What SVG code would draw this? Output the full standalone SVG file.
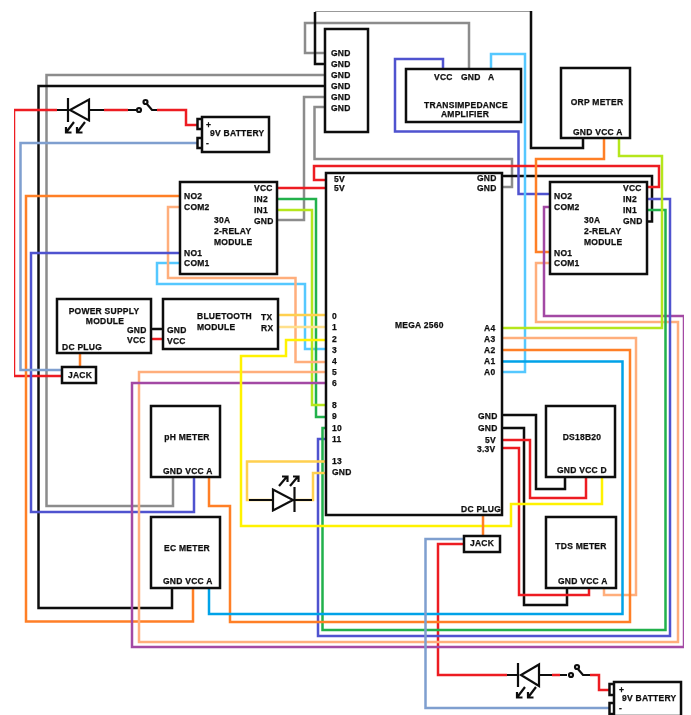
<svg xmlns="http://www.w3.org/2000/svg" width="691" height="715" viewBox="0 0 691 715">
<style>
text{font-family:"Liberation Sans",Arial,sans-serif;font-weight:700;font-size:8.5px;letter-spacing:.25px;fill:#111;stroke:#111;stroke-width:.25px}
.m{text-anchor:middle}
.w{fill:none;stroke-width:2.5;stroke-linejoin:miter}
.box{fill:#fff;stroke:#111;stroke-width:2.500}
.sym{fill:none;stroke:#111;stroke-width:2.200}
.k{stroke:#111}.g{stroke:#8c8c8c}.r{stroke:#ed1c24}.o{stroke:#ff7f27}.lo{stroke:#ffae7c}.b{stroke:#4f52cf}.c{stroke:#55c8ff}.a1{stroke:#00a2e8}
.gr{stroke:#22b14c}.l{stroke:#b5e61d}.p{stroke:#a349a4}.y{stroke:#fff200}.gd{stroke:#ffd050}.gl{stroke:#ffe08c}.bg{stroke:#7f9fcf}
</style>
<defs><filter id="soft" x="0" y="0" width="100%" height="100%"><feGaussianBlur stdDeviation="0.3"/></filter></defs>
<rect width="691" height="715" fill="#fff"/>
<g filter="url(#soft)">
<g id="connectors">
<path class="w" style="stroke:#999;stroke-width:1" d="M315 11.500H531"/>
<path class="w g" d="M325 53H305V23H469V69"/>
<path class="w g" d="M325 75H46.500V506H173V477"/>
<path class="w g" d="M325 97H304V220H277"/>
<path class="w g" d="M325 107H314.500V159H512V187H502"/>
<path class="w k" d="M315 12V64H325"/>
<path class="w k" d="M531 11V148H583V138"/>
<path class="w k" d="M325 86H38.500V608H172V588"/>
<path class="w k" d="M502 176H652V221.500H647"/>
<path class="w k" d="M502 415H536V489H565V477"/>
<path class="w k" d="M502 428H524V605H567V588"/>
<path class="w k" d="M151 329H163"/>
<path class="w b" d="M443 69V59H395V131.500H518.500V194H551"/>
<path class="w c" d="M491 69V54H525V372H502"/>
<path class="w c" d="M180 263H157V284H305V349H326"/>
<path class="w r" d="M326 180H314V166H659V187H647"/>
<path class="w r" d="M277 188H326"/>
<path class="w r" d="M151 339H163"/>
<path class="w r" d="M61 376H14V110H57"/>
<path class="w r" d="M104 110H128"/>
<path class="w r" d="M157 110H186V125H197"/>
<path class="w r" d="M502 440H530V498H586V477"/>
<path class="w r" d="M502 448H519V595H589V588"/>
<path class="w r" d="M464 544H438V675H507"/>
<path class="w r" d="M552 675H560"/>
<path class="w r" d="M590 675H599V690H609"/>
<path class="w gr" d="M277 199H316V417H326"/>
<path class="w l" d="M277 210H312V405H326"/>
<path class="w o" d="M180 196H26V621.500H193V588"/>
<path class="w lo" d="M180 207H168V278H295.500V362H326"/>
<path class="w b" d="M180 253H31V512H194V477"/>
<path class="w o" d="M551 252H536V159H604V138"/>
<path class="w lo" d="M551 263H536V322H678V642H139V372H326"/>
<path class="w p" d="M551 207H544V316H684V647H132V383H326"/>
<path class="w b" d="M647 199H670V636H318V439H326"/>
<path class="w gr" d="M647 210H665.500V630H322.500V428H326"/>
<path class="w l" d="M619 138V156H662V328H502"/>
<path class="w lo" d="M502 338H636V595H604V588"/>
<path class="w o" d="M502 350H630V622H230V506H209V477"/>
<path class="w a1" d="M502 361.500H622.500V614H209V588"/>
<path class="w y" d="M602 477V504H511V526H241V356H286V340H326"/>
<path class="w gd" d="M326 461.500H247V500H272"/>
<path class="w gd" d="M326 473H313V500H296"/>
<path class="w gd" d="M277 315H326"/>
<path class="w gl" d="M277 327H326"/>
<path class="w o" d="M483 515V536"/>
<path class="w o" d="M80 353V367"/>
<path class="w bg" d="M197 143H20.500V370H62"/>
<path class="w bg" d="M464 539H425.500V708H609"/>
</g>
<g id="gnd-bus"><rect class="box" x="325" y="29" width="43" height="103"/>
<text x="331" y="56">GND</text><text x="331" y="67">GND</text><text x="331" y="78">GND</text><text x="331" y="89">GND</text><text x="331" y="100">GND</text><text x="331" y="111">GND</text></g>
<g id="transimpedance-amplifier"><rect class="box" x="406" y="69" width="115" height="53"/>
<text x="434" y="80">VCC</text><text x="461" y="80">GND</text><text x="488" y="80">A</text>
<text class="m" x="466" y="107.500">TRANSIMPEDANCE</text><text class="m" x="465" y="116.500">AMPLIFIER</text></g>
<g id="orp-meter"><rect class="box" x="561" y="68" width="69" height="70"/>
<text class="m" x="597" y="105">ORP METER</text><text x="573" y="135">GND VCC A</text></g>
<g id="battery-1"><rect class="box" x="197.500" y="119" width="5" height="10"/><rect class="box" x="197.500" y="138" width="5" height="10"/><rect class="box" x="202" y="117" width="67" height="35"/>
<text x="206" y="127.500">+</text><text x="210" y="136">9V BATTERY</text><text x="206" y="146">-</text></g>
<g id="diode-1"><path class="sym" d="M57 110H68M68 98V122M89 99.500V120.500L70 110ZM89 110H104M128 110H136M146.500 103.500L152 110H157"/>
<circle class="sym" cx="139" cy="110" r="2"/><circle class="sym" cx="145.500" cy="102" r="2"/>
<path class="sym" d="M74 122L66 132.500M66 127V132.500H71.500M85 122L77 132.500M77 127V132.500H82.500"/></g>
<g id="relay-left"><rect class="box" x="180" y="182" width="97" height="92"/>
<text x="184" y="199">NO2</text><text x="184" y="210">COM2</text><text x="214" y="223">30A</text><text x="214" y="234">2-RELAY</text><text x="214" y="245">MODULE</text><text x="184" y="255.500">NO1</text><text x="184" y="266">COM1</text>
<text x="254" y="191">VCC</text><text x="254" y="202">IN2</text><text x="254" y="213">IN1</text><text x="254" y="224">GND</text></g>
<g id="relay-right"><rect class="box" x="550" y="182" width="97" height="92"/>
<text x="554" y="199">NO2</text><text x="554" y="210">COM2</text><text x="584" y="223">30A</text><text x="584" y="234">2-RELAY</text><text x="584" y="245">MODULE</text><text x="554" y="255.500">NO1</text><text x="554" y="266">COM1</text>
<text x="623" y="191">VCC</text><text x="623" y="202">IN2</text><text x="623" y="213">IN1</text><text x="623" y="224">GND</text></g>
<g id="mega-2560"><rect class="box" x="326" y="173" width="176" height="342"/>
<text x="334" y="182">5V</text><text x="334" y="191">5V</text><text x="477" y="181">GND</text><text x="477" y="191">GND</text>
<text x="332" y="319">0</text><text x="332" y="330">1</text><text x="332" y="342">2</text><text x="332" y="353">3</text><text x="332" y="364">4</text><text x="332" y="375">5</text><text x="332" y="386">6</text><text x="332" y="408">8</text><text x="332" y="419">9</text><text x="332" y="431">10</text><text x="332" y="442">11</text><text x="332" y="464">13</text><text x="332" y="475">GND</text>
<text x="395" y="328">MEGA 2560</text>
<text x="484" y="331">A4</text><text x="484" y="342">A3</text><text x="484" y="353">A2</text><text x="484" y="364">A1</text><text x="484" y="375">A0</text>
<text x="478" y="419">GND</text><text x="478" y="431">GND</text><text x="485" y="443">5V</text><text x="477" y="452">3.3V</text><text x="461" y="512">DC PLUG</text></g>
<g id="power-supply"><rect class="box" x="57" y="299" width="94" height="54"/>
<text class="m" x="104" y="314">POWER SUPPLY</text><text class="m" x="105" y="324">MODULE</text><text x="127" y="333">GND</text><text x="127" y="343">VCC</text><text x="62" y="350">DC PLUG</text></g>
<g id="bluetooth"><rect class="box" x="163" y="299" width="115" height="50"/>
<text x="197" y="319">BLUETOOTH</text><text x="197" y="330">MODULE</text><text x="261" y="320">TX</text><text x="261" y="331">RX</text><text x="167" y="333">GND</text><text x="167" y="344">VCC</text></g>
<g id="jack-left"><rect class="box" x="62" y="367" width="34" height="16"/><text x="68" y="378">JACK</text></g>
<g id="ph-meter"><rect class="box" x="151" y="406" width="69" height="71"/><text class="m" x="187" y="440">pH METER</text><text x="163" y="474">GND VCC A</text></g>
<g id="ec-meter"><rect class="box" x="151" y="517" width="69" height="71"/><text class="m" x="187" y="551">EC METER</text><text x="163" y="584">GND VCC A</text></g>
<g id="led"><path class="sym" d="M249 500H273M273 489.500V510.500L293 500ZM294.500 487V512M294.500 500H312"/>
<path class="sym" d="M279 486L287 476.500M282 476.500H287.500V482M290 486L298 476.500M293 476.500H298.500V482"/></g>
<g id="ds18b20"><rect class="box" x="546" y="406" width="69" height="71"/><text class="m" x="582" y="440">DS18B20</text><text x="557" y="473">GND VCC D</text></g>
<g id="tds-meter"><rect class="box" x="546" y="517" width="70" height="71"/><text class="m" x="581" y="549">TDS METER</text><text x="558" y="584">GND VCC A</text></g>
<g id="jack-right"><rect class="box" x="464" y="536" width="36" height="16"/><text x="470" y="546">JACK</text></g>
<g id="diode-2"><path class="sym" d="M507 675H518M518 663V687M539 664.500V686L521 675ZM539 675H552M560 675H567M577.500 668.500L583 675H590"/>
<circle class="sym" cx="571" cy="675" r="2"/><circle class="sym" cx="577" cy="667" r="2"/>
<path class="sym" d="M525 687L517 697.500M517 692V697.500H522.500M536 687L528 697.500M528 692V697.500H533.500"/></g>
<g id="battery-2"><rect class="box" x="609.500" y="684" width="5" height="11"/><rect class="box" x="609.500" y="703" width="5" height="11"/><rect class="box" x="614" y="682" width="67" height="34"/>
<text x="619" y="693">+</text><text x="622" y="701">9V BATTERY</text><text x="619" y="711">-</text></g>
</g>
</svg>
